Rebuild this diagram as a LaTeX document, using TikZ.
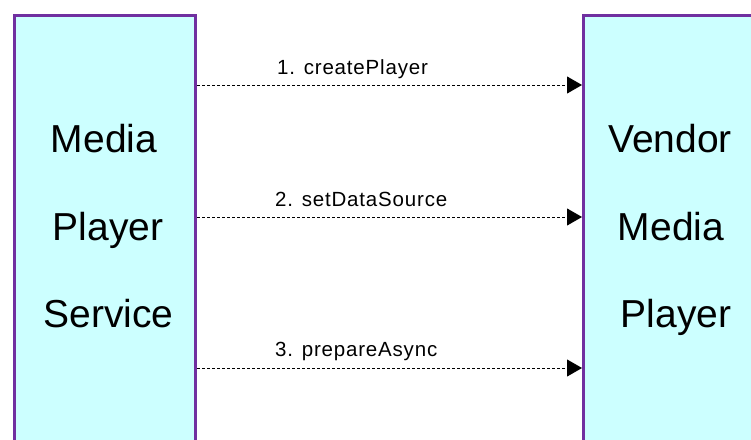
\documentclass[tikz,border=0pt]{standalone}
\usepackage{fontspec}
\setmainfont{Liberation Sans}
\newfontfamily\labelfont[LetterSpace=4]{Liberation Sans}
\usetikzlibrary{arrows.meta}
\definecolor{boxfill}{HTML}{CCFFFF}
\definecolor{boxline}{HTML}{7030A0}
\tikzset{
  lifeline/.style={draw=boxline, fill=boxfill, line width=3pt, inner sep=0pt},
  bigtext/.style={font=\fontsize{39}{39}\selectfont, anchor=base, text=black},
  msg/.style={dash pattern=on 3pt off 2pt, line width=0.9pt,
    -{Triangle[length=15pt,width=17pt]}},
  msglabel/.style={font=\labelfont\fontsize{20.5}{20.5}\selectfont, anchor=base west, text=black, inner sep=0pt}
}
\begin{document}
\begin{tikzpicture}[x=1pt,y=-1pt]
\useasboundingbox (0,0) rectangle (751,439);
\clip (0,0) rectangle (751,439);
% the two participants, running past the lower edge
\node[lifeline, minimum width=181.5pt, minimum height=480pt, anchor=north west] (mps) at (12.5,13.5) {};
\node[lifeline, minimum width=200pt, minimum height=480pt, anchor=north west] (vmp) at (582,13.5) {};
% participant titles
\node[bigtext] (mps1) at (104,152.5) {Media};
\node[bigtext] (mps2) at (108,240) {Player};
\node[bigtext] (mps3) at (108.5,327.5) {Service};
\node[bigtext] (vmp1) at (670,152.5) {Vendor};
\node[bigtext] (vmp2) at (671,240) {Media};
\node[bigtext] (vmp3) at (676,327.5) {Player};
% calls
\coordinate (y1) at (0,85);
\coordinate (y2) at (0,217);
\coordinate (y3) at (0,368);
\draw[msg] (mps.east |- y1) -- (vmp.west |- y1);
\draw[msg] (mps.east |- y2) -- (vmp.west |- y2);
\draw[msg] (mps.east |- y3) -- (vmp.west |- y3);
\node[msglabel] (m1) at (277,74) {1. createPlayer};
\node[msglabel] (m2) at (275,206.7) {2. setDataSource};
\node[msglabel] (m3) at (275,356.7) {3. prepareAsync};
\end{tikzpicture}
\end{document}
